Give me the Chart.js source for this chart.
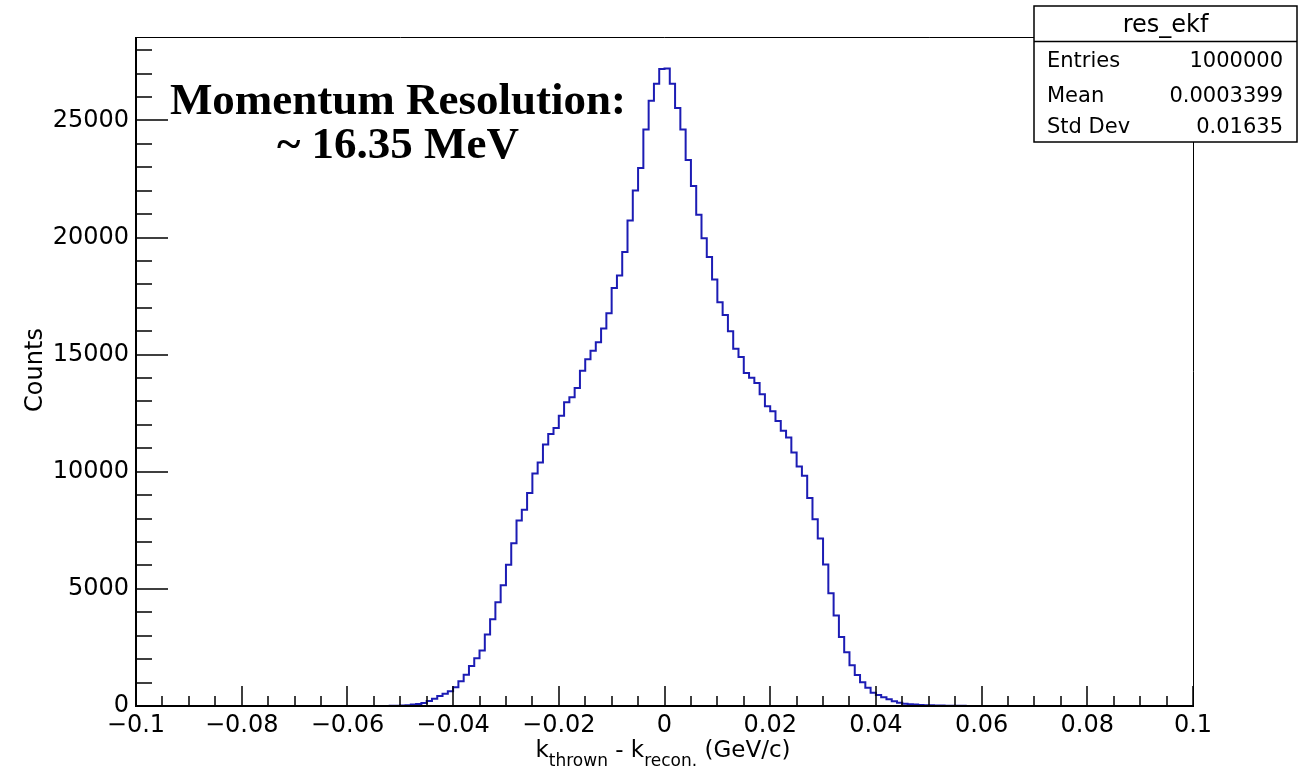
<!DOCTYPE html>
<html>
<head>
<meta charset="utf-8">
<title>res_ekf</title>
<script src="https://cdn.jsdelivr.net/npm/chart.js@4.4.0/dist/chart.umd.min.js"></script>
<style>
  html, body { margin: 0; padding: 0; background: #fff; }
  #wrap { width: 1300px; height: 766px; }
</style>
</head>
<body>
<div id="wrap"><canvas id="histChart" width="1300" height="766"></canvas></div>
<script>
// ====== Histogram data ======
const xMin = -0.1;
const xMax = 0.1;
const nBins = 200;
const yMax = 28560;

// counts per bin (bin width 0.001)
const counts = [
  0, 0, 0, 0, 0, 0, 0, 0, 0, 0,
  0, 0, 0, 0, 0, 0, 0, 0, 0, 0,
  0, 0, 0, 0, 0, 0, 0, 0, 0, 0,
  0, 0, 0, 0, 0, 0, 0, 0, 0, 0,
  0, 0, 0, 0, 1, 1, 2, 3, 6, 10,
  20, 35, 60, 90, 130, 214, 313, 427, 527, 627,
  797, 1054, 1339, 1709, 2037, 2365, 3048, 3704, 4430, 5157,
  6026, 6952, 7920, 8376, 9088, 9929, 10399, 11168, 11610, 11866,
  12393, 12963, 13177, 13575, 14316, 14800, 15171, 15527, 16111, 16767,
  17849, 18376, 19380, 20726, 22009, 22963, 24615, 25841, 26567, 27194,
  27210, 26567, 25527, 24615, 23305, 22194, 20968, 19972, 19170, 18205,
  17237, 16695, 15997, 15256, 14900, 14217, 14017, 13789, 13305, 12792,
  12578, 12165, 11752, 11467, 10826, 10228, 9829, 8875, 7977, 7151,
  6040, 4815, 3860, 2949, 2293, 1738, 1325, 1011, 783, 570,
  470, 370, 285, 200, 142, 100, 80, 60, 45, 35,
  28, 22, 18, 14, 11, 9, 7, 5, 4, 3,
  2, 2, 1, 1, 1, 1, 0, 0, 0, 0,
  0, 0, 0, 0, 0, 0, 0, 0, 0, 0,
  0, 0, 0, 0, 0, 0, 0, 0, 0, 0,
  0, 0, 0, 0, 0, 0, 0, 0, 0, 0
];

const xTicks = [-0.1, -0.08, -0.06, -0.04, -0.02, 0, 0.02, 0.04, 0.06, 0.08, 0.1];
const yTicks = [0, 5000, 10000, 15000, 20000, 25000];
const xMinorStep = 0.005;
const yMinorStep = 1000;

const statsTitle = "res_ekf";
const statsLabels = ["Entries", "Mean", "Std Dev"];
const statsValues = ["1000000", "0.0003399", "0.01635"];

const noteLines = ["Momentum Resolution:", "~ 16.35 MeV"];
const yTitle = "Counts";

// ====== Style ======
const histColor = "#1c1cb4";
const sans = '"DejaVu Sans", "Liberation Sans", sans-serif';
const serif = '"Liberation Serif", "DejaVu Serif", serif';

// build the step outline from the bins
const binWidth = (xMax - xMin) / nBins;
const stepPoints = [];
counts.forEach((c, i) => {
  const lo = xMin + i * binWidth;
  stepPoints.push({ x: lo, y: c });
  stepPoints.push({ x: lo + binWidth, y: c });
});

const fmtX = (v) => {
  const n = Number(v.toFixed(3));
  if (n === 0) return "0";
  return String(n).replace("-", "\u2212");
};

// ROOT-like frame, inner ticks, titles and stats box
const rootPlugin = {
  id: "rootFrame",
  afterDraw(chart) {
    const { ctx, chartArea: a, scales } = chart;
    const xs = scales.x, ys = scales.y;
    ctx.save();
    ctx.strokeStyle = "#000";

    // frame
    ctx.lineWidth = 1;
    ctx.beginPath();
    ctx.moveTo(a.left, a.top + 0.5);
    ctx.lineTo(a.right + 0.5, a.top + 0.5);
    ctx.lineTo(a.right + 0.5, a.bottom);
    ctx.stroke();
    ctx.lineWidth = 2;
    ctx.beginPath();
    ctx.moveTo(a.left, a.top);
    ctx.lineTo(a.left, a.bottom);
    ctx.lineTo(a.right + 1, a.bottom);
    ctx.stroke();

    // x ticks: major at labels, minor every xMinorStep
    ctx.lineWidth = 1.5;
    ctx.beginPath();
    const nx = Math.round((xMax - xMin) / xMinorStep);
    for (let i = 0; i <= nx; i++) {
      const v = xMin + i * xMinorStep;
      const px = Math.round(xs.getPixelForValue(v));
      const major = xTicks.some(t => Math.abs(t - v) < 1e-9);
      ctx.moveTo(px, a.bottom);
      ctx.lineTo(px, a.bottom - (major ? 20 : 10));
    }
    // y ticks
    for (let v = 0; v <= yMax; v += yMinorStep) {
      const py = Math.round(ys.getPixelForValue(v));
      const major = yTicks.includes(v);
      ctx.moveTo(a.left, py);
      ctx.lineTo(a.left + (major ? 32 : 16), py);
    }
    ctx.stroke();

    ctx.fillStyle = "#000";

    // y title
    ctx.save();
    ctx.translate(42, 370);
    ctx.rotate(-Math.PI / 2);
    ctx.font = "24px " + sans;
    ctx.textAlign = "center";
    ctx.textBaseline = "alphabetic";
    ctx.fillText(yTitle, 0, 0);
    ctx.restore();

    // x title with subscripts
    const parts = [
      { t: "k", sub: false }, { t: "thrown", sub: true },
      { t: " - k", sub: false }, { t: "recon.", sub: true },
      { t: " (GeV/c)", sub: false }
    ];
    let total = 0;
    parts.forEach(p => {
      ctx.font = (p.sub ? "17px " : "23px ") + sans;
      p.w = ctx.measureText(p.t).width;
      total += p.w;
    });
    let tx = 663 - total / 2;
    ctx.textAlign = "left";
    parts.forEach(p => {
      ctx.font = (p.sub ? "17px " : "23px ") + sans;
      ctx.fillText(p.t, tx, p.sub ? 766 : 757);
      tx += p.w;
    });

    // annotation
    ctx.font = "bold 45px " + serif;
    ctx.textAlign = "center";
    ctx.fillText(noteLines[0], 398, 114);
    ctx.fillText(noteLines[1], 398, 158);

    // stats box
    const bx = 1034, by = 6, bw = 263, bh = 136;
    ctx.fillStyle = "#fff";
    ctx.fillRect(bx, by, bw, bh);
    ctx.lineWidth = 1.5;
    ctx.strokeRect(bx, by, bw, bh);
    ctx.beginPath();
    ctx.moveTo(bx, 41.5);
    ctx.lineTo(bx + bw, 41.5);
    ctx.stroke();
    ctx.fillStyle = "#000";
    ctx.font = "24px " + sans;
    ctx.textAlign = "center";
    ctx.fillText(statsTitle, bx + bw / 2, 32);
    ctx.font = "21px " + sans;
    const rowBase = [67, 102, 133];
    statsLabels.forEach((lab, i) => {
      ctx.textAlign = "left";
      ctx.fillText(lab, 1047, rowBase[i]);
      ctx.textAlign = "right";
      ctx.fillText(statsValues[i], 1283, rowBase[i]);
    });
    ctx.restore();
  }
};

const ctx = document.getElementById("histChart").getContext("2d");
Chart.defaults.font.family = sans;
Chart.defaults.color = "#000";

const histChart = new Chart(ctx, {
  type: "line",
  data: {
    datasets: [{
      label: statsTitle,
      data: stepPoints,
      borderColor: histColor,
      borderWidth: 2,
      pointRadius: 0,
      fill: false,
      tension: 0
    }]
  },
  options: {
    responsive: false,
    animation: false,
    devicePixelRatio: 1,
    layout: { padding: { top: 37, right: 107, left: 0, bottom: 0 } },
    plugins: { legend: { display: false }, tooltip: { enabled: false } },
    scales: {
      x: {
        type: "linear",
        min: xMin,
        max: xMax,
        grid: { display: false, drawTicks: false },
        border: { display: false },
        afterBuildTicks: (s) => { s.ticks = xTicks.map(v => ({ value: v })); },
        ticks: {
          padding: 5,
          autoSkip: false,
          maxRotation: 0,
          font: { size: 24 },
          callback: fmtX
        },
        afterFit: (s) => { s.height = 60; }
      },
      y: {
        min: 0,
        max: yMax,
        grid: { display: false, drawTicks: false },
        border: { display: false },
        afterBuildTicks: (s) => { s.ticks = yTicks.map(v => ({ value: v })); },
        ticks: {
          padding: 7,
          autoSkip: false,
          font: { size: 24 },
          callback: (v) => String(v)
        },
        afterFit: (s) => { s.width = 136; }
      }
    }
  },
  plugins: [rootPlugin]
});
</script>
</body>
</html>
